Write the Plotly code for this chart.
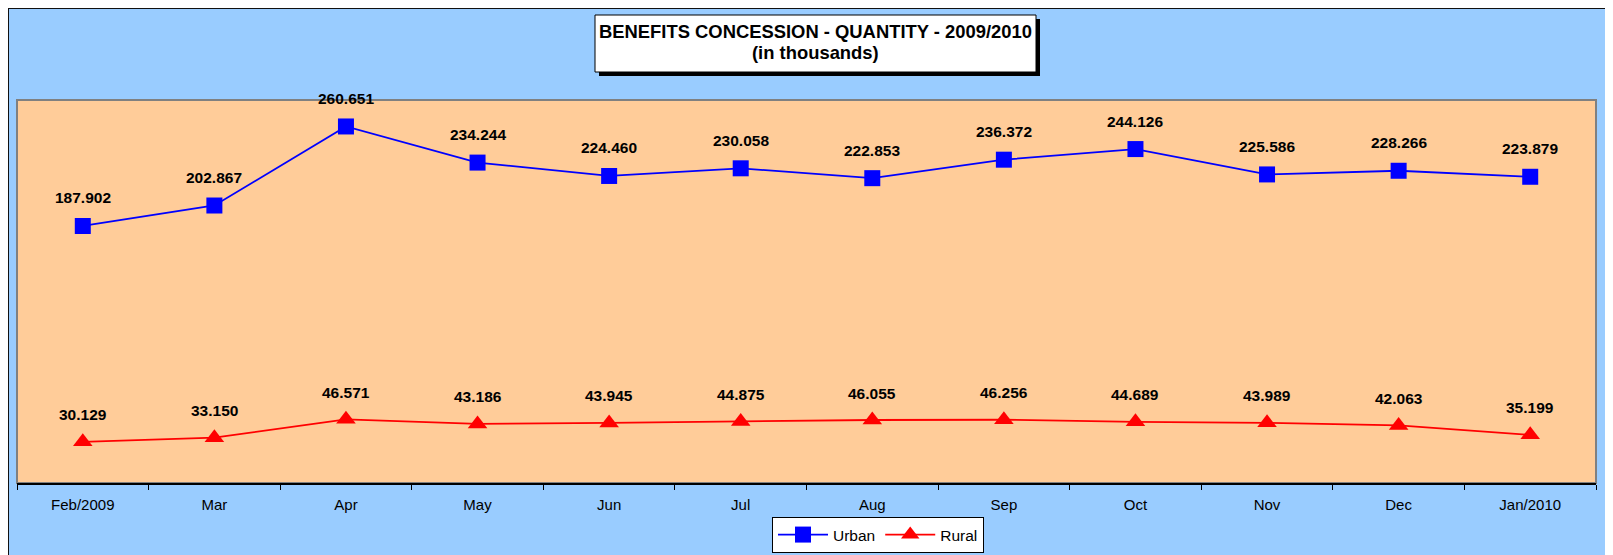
import plotly.graph_objects as go

months = ["Feb/2009", "Mar", "Apr", "May", "Jun", "Jul", "Aug", "Sep", "Oct", "Nov", "Dec", "Jan/2010"]
urban = [187.902, 202.867, 260.651, 234.244, 224.460, 230.058, 222.853, 236.372, 244.126, 225.586, 228.266, 223.879]
rural = [30.129, 33.150, 46.571, 43.186, 43.945, 44.875, 46.055, 46.256, 44.689, 43.989, 42.063, 35.199]
urban_labels = ["187.902", "202.867", "260.651", "234.244", "224.460", "230.058", "222.853", "236.372", "244.126", "225.586", "228.266", "223.879"]
rural_labels = ["30.129", "33.150", "46.571", "43.186", "43.945", "44.875", "46.055", "46.256", "44.689", "43.989", "42.063", "35.199"]

# figure sits 8px in from page edges (default body margin)
OFF = 8
W, H = 1605, 547
L, R, T, B = 9, 17, 92, 72
PW = W - L - R
PH = H - T - B

def px(x):
    """absolute page x -> paper x"""
    return (x - OFF - L) / PW

def py(y):
    """absolute page y -> paper y"""
    return (H - B - (y - OFF)) / PH

FONT = "Liberation Sans, Arial, sans-serif"

fig = go.Figure()
fig.add_trace(go.Scatter(
    x=months, y=urban, name="Urban", mode="lines+markers",
    line=dict(color="#0000FF", width=1.8),
    marker=dict(symbol="square", size=16, color="#0000FF"),
))
fig.add_trace(go.Scatter(
    x=months, y=rural, name="Rural", mode="lines+markers",
    line=dict(color="#FF0000", width=1.8),
    marker=dict(symbol="triangle-up", size=17, color="#FF0000"),
))

annotations = []
for m, v, t in zip(months, urban, urban_labels):
    annotations.append(dict(x=m, y=v, xref="x", yref="y", text=t, showarrow=False,
                            yshift=28, font=dict(family=FONT, size=15.5, color="black", weight="bold")))
for m, v, t in zip(months, rural, rural_labels):
    annotations.append(dict(x=m, y=v, xref="x", yref="y", text=t, showarrow=False,
                            yshift=27, font=dict(family=FONT, size=15.5, color="black", weight="bold")))

annotations.append(dict(
    x=px(815.5), y=py(31.7), xref="paper", yref="paper", xanchor="center", yanchor="middle",
    text="<b>BENEFITS CONCESSION - QUANTITY - 2009/2010</b>",
    showarrow=False, font=dict(family=FONT, size=18.4, color="black"),
))
annotations.append(dict(
    x=px(815.5), y=py(52), xref="paper", yref="paper", xanchor="center", yanchor="middle",
    text="<b>(in thousands)</b>",
    showarrow=False, font=dict(family=FONT, size=18.4, color="black"),
))

shapes = [
    # outer chart border (top and left)
    dict(type="line", xref="paper", yref="paper", x0=px(OFF), x1=px(OFF + W + 5), y0=py(OFF), y1=py(OFF),
         line=dict(color="#111111", width=2)),
    dict(type="line", xref="paper", yref="paper", x0=px(OFF), x1=px(OFF), y0=py(OFF), y1=py(OFF + H + 5),
         line=dict(color="#111111", width=2)),
    # plot area border
    dict(type="rect", xref="paper", yref="paper", x0=0, x1=1, y0=0, y1=1,
         line=dict(color="#808080", width=2), layer="below"),
    # title box shadow and box
    dict(type="rect", xref="paper", yref="paper", x0=px(599), x1=px(1040), y0=py(76), y1=py(19),
         fillcolor="black", line=dict(width=0)),
    dict(type="rect", xref="paper", yref="paper", x0=px(595), x1=px(1036), y0=py(72), y1=py(15),
         fillcolor="white", line=dict(color="black", width=1)),
]

fig.update_layout(
    width=W, height=H,
    margin=dict(l=L, r=R, t=T, b=B, pad=0, autoexpand=False),
    paper_bgcolor="#99CCFF",
    plot_bgcolor="#FFCC99",
    font=dict(family=FONT, size=15, color="black"),
    showlegend=True,
    legend=dict(orientation="h", x=px(772), y=py(535), xanchor="left", yanchor="middle",
                bgcolor="white", bordercolor="black", borderwidth=1,
                font=dict(family=FONT, size=15.5, color="black"),
                itemwidth=50, tracegroupgap=0),
    annotations=annotations,
    shapes=shapes,
)
fig.update_xaxes(
    type="category",
    range=[-0.5, len(months) - 0.5],
    showgrid=False, zeroline=False,
    showline=True, linecolor="black", linewidth=1.5,
    ticks="outside", tickson="boundaries", ticklen=5, tickcolor="black", tickwidth=1,
    ticklabelstandoff=7,
    tickfont=dict(family=FONT, size=15, color="black"),
)
fig.update_yaxes(range=[0, 280], showgrid=False, zeroline=False, showticklabels=False, showline=False)

fig.write_html("out.html")
